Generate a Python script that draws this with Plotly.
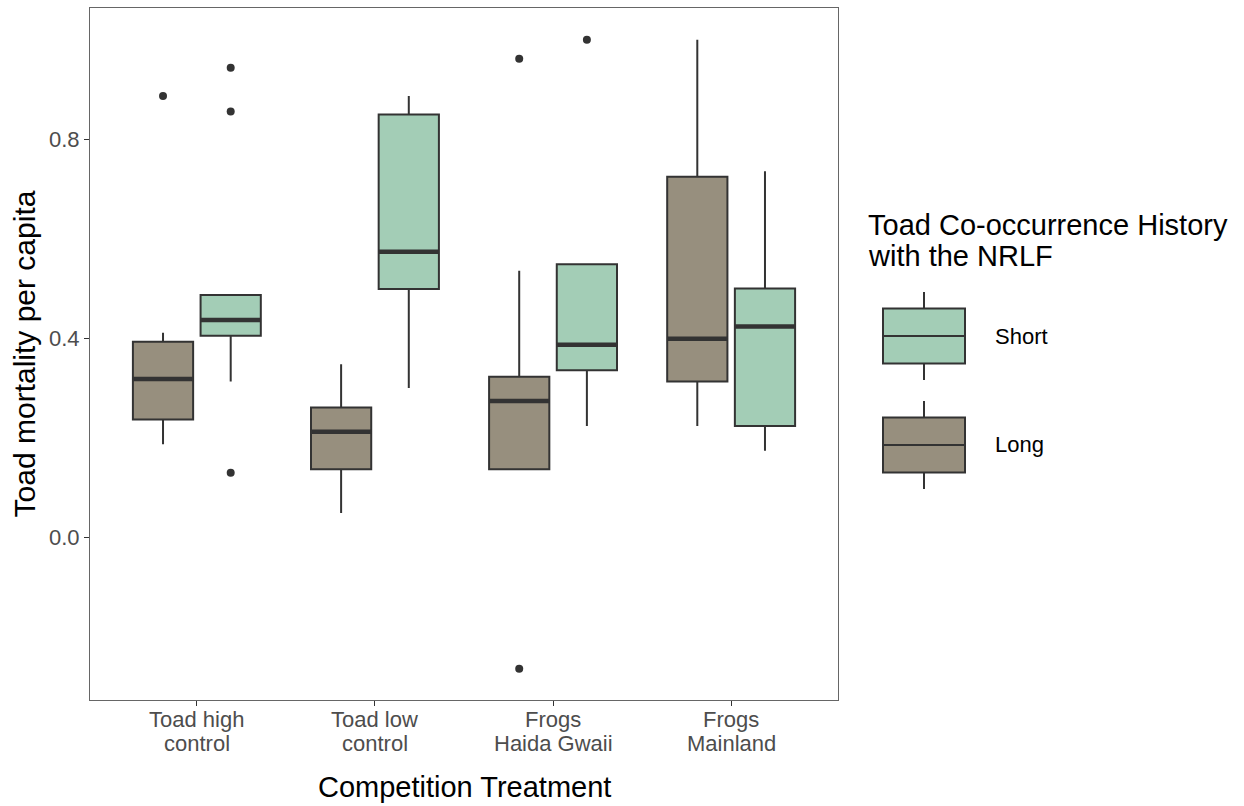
import plotly.graph_objects as go

# ---- data -------------------------------------------------------------
categories = ["Toad high control", "Toad low control", "Frogs Haida Gwaii", "Frogs Mainland"]
tick_line1 = ["Toad high", "Toad low", "Frogs", "Frogs"]
tick_line2 = ["control", "control", "Haida Gwaii", "Mainland"]

# Long co-occurrence history
long_lower = [0.187, 0.049, 0.137, 0.224]
long_q1 = [0.237, 0.137, 0.137, 0.313]
long_median = [0.318, 0.212, 0.274, 0.399]
long_q3 = [0.393, 0.261, 0.323, 0.725]
long_upper = [0.411, 0.348, 0.536, 1.000]
long_out_x = ["Toad high control", "Frogs Haida Gwaii", "Frogs Haida Gwaii"]
long_out_y = [0.887, 0.962, -0.264]

# Short co-occurrence history
short_lower = [0.313, 0.300, 0.224, 0.174]
short_q1 = [0.405, 0.499, 0.336, 0.224]
short_median = [0.437, 0.574, 0.387, 0.424]
short_q3 = [0.487, 0.850, 0.549, 0.500]
short_upper = [0.487, 0.887, 0.549, 0.736]
short_out_x = ["Toad high control", "Toad high control", "Toad high control", "Frogs Haida Gwaii"]
short_out_y = [0.944, 0.856, 0.130, 1.000]

y_ticks = [0.0, 0.4, 0.8]

# ---- style ------------------------------------------------------------
LONG_FILL = "#978f7e"
SHORT_FILL = "#a3cdb6"
EDGE = "#333333"
FONT = "Liberation Sans, Arial, sans-serif"

W, H = 1244, 806
M_L, M_R, M_T, M_B = 90, 406, 8, 106
PLOT_W = W - M_L - M_R
PLOT_H = H - M_T - M_B


def paper_x(px):
    return (px - M_L) / PLOT_W


def paper_y(py):
    return (H - M_B - py) / PLOT_H


fig = go.Figure()


def add_group(name, fill, lower, q1, med, q3, upper, out_x, out_y):
    # box + whiskers
    fig.add_trace(go.Box(
        x=categories, q1=q1, median=med, q3=q3, lowerfence=lower, upperfence=upper,
        name=name, offsetgroup=name, fillcolor=fill,
        line=dict(color=EDGE, width=2), whiskerwidth=0, boxpoints=False,
        showlegend=False,
    ))
    # heavier median bar
    fig.add_trace(go.Box(
        x=categories, q1=med, median=med, q3=med, lowerfence=med, upperfence=med,
        name=name, offsetgroup=name, fillcolor="rgba(0,0,0,0)",
        line=dict(color=EDGE, width=4.5), whiskerwidth=0, boxpoints=False,
        showlegend=False, hoverinfo="skip",
    ))
    # outlying observations
    fig.add_trace(go.Box(
        x=out_x, y=out_y, name=name, offsetgroup=name,
        boxpoints="all", jitter=0, pointpos=0,
        fillcolor="rgba(0,0,0,0)", line=dict(color="rgba(0,0,0,0)", width=0),
        marker=dict(color=EDGE, size=8), whiskerwidth=0, showlegend=False,
    ))


add_group("Long", LONG_FILL, long_lower, long_q1, long_median, long_q3, long_upper,
          long_out_x, long_out_y)
add_group("Short", SHORT_FILL, short_lower, short_q1, short_median, short_q3, short_upper,
          short_out_x, short_out_y)

shapes = []
annotations = []

# ---- two-line category labels (tighter line spacing) -------------------
for cat, l1, l2 in zip(categories, tick_line1, tick_line2):
    for text, py in ((l1, 719), (l2, 744)):
        annotations.append(dict(xref="x", yref="paper", x=cat, y=paper_y(py),
                                xanchor="center", yanchor="middle", showarrow=False,
                                text=text, font=dict(family=FONT, size=22, color="#4d4d4d")))

annotations.append(dict(xref="paper", yref="paper", x=0.5, y=paper_y(787),
                        xanchor="center", yanchor="middle", showarrow=False,
                        text="Competition Treatment",
                        font=dict(family=FONT, size=29, color="black")))

# ---- legend (drawn as boxplot keys) -----------------------------------
key_x0, key_x1 = 883, 965
key_cx = (key_x0 + key_x1) / 2
legend_items = [("Short", SHORT_FILL, 336), ("Long", LONG_FILL, 445)]
for label, fill, cy in legend_items:
    half_box, half_whisk = 27.5, 44
    line = dict(color=EDGE, width=2)
    shapes.append(dict(type="line", xref="paper", yref="paper",
                       x0=paper_x(key_cx), x1=paper_x(key_cx),
                       y0=paper_y(cy - half_whisk), y1=paper_y(cy + half_whisk), line=line))
    shapes.append(dict(type="rect", xref="paper", yref="paper",
                       x0=paper_x(key_x0), x1=paper_x(key_x1),
                       y0=paper_y(cy - half_box), y1=paper_y(cy + half_box),
                       fillcolor=fill, line=line))
    shapes.append(dict(type="line", xref="paper", yref="paper",
                       x0=paper_x(key_x0), x1=paper_x(key_x1),
                       y0=paper_y(cy), y1=paper_y(cy), line=line))
    annotations.append(dict(xref="paper", yref="paper", x=paper_x(993), y=paper_y(cy),
                            xanchor="left", yanchor="middle", showarrow=False, text=label,
                            font=dict(family=FONT, size=22, color="black")))

for text, py in (("Toad Co-occurrence History", 225), ("with the NRLF", 256)):
    annotations.append(dict(xref="paper", yref="paper", x=paper_x(866), y=paper_y(py),
                            xanchor="left", yanchor="middle", showarrow=False,
                            text=text, font=dict(family=FONT, size=29, color="black")))

fig.update_layout(
    width=W, height=H,
    margin=dict(l=M_L, r=M_R, t=M_T, b=M_B, autoexpand=False),
    paper_bgcolor="white", plot_bgcolor="white",
    boxmode="group", boxgap=0.24, boxgroupgap=0.11,
    showlegend=False,
    font=dict(family=FONT),
    shapes=shapes, annotations=annotations,
)

fig.update_xaxes(
    type="category", categoryorder="array", categoryarray=categories,
    tickvals=categories, showticklabels=False,
    range=[-0.6, 3.6], showgrid=False, zeroline=False,
    showline=True, mirror=True, linecolor="#666666", linewidth=1,
    ticks="outside", ticklen=5, tickcolor=EDGE, tickwidth=1,
    automargin=False,
)
fig.update_yaxes(
    range=[-0.327, 1.064], tickvals=y_ticks, tickformat=".1f",
    showgrid=False, zeroline=False,
    showline=True, mirror=True, linecolor="#666666", linewidth=1,
    ticks="outside", ticklen=5, tickcolor=EDGE, tickwidth=1,
    tickfont=dict(family=FONT, size=22, color="#4d4d4d"),
    title=dict(text="Toad mortality per capita", standoff=4,
               font=dict(family=FONT, size=30, color="black")),
    automargin=False,
)

fig.write_html("out.html")
